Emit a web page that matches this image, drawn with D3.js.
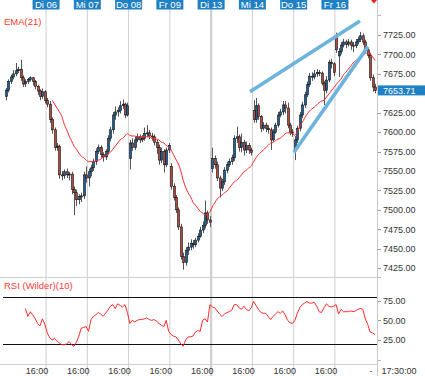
<!DOCTYPE html>
<html><head><meta charset="utf-8">
<script src="https://cdn.jsdelivr.net/npm/d3@7/dist/d3.min.js"></script>
<style>html,body{margin:0;padding:0;background:#fff;overflow:hidden}svg{display:block;font-family:"Liberation Sans",Arial,sans-serif}</style>
</head><body><svg id="c" width="425" height="376"></svg>
<script>
// ---------- data ----------
const days = ["Mo 05","Di 06","Mi 07","Do 08","Fr 09","Di 13","Mi 14","Do 15","Fr 16"];
const barsPerDay = 17; // 30-minute bars
const timeLabel = "16:00";
const lastTimeLabel = "17:30:00";

const open = [
 7646,7654,7665,7671,7675,7679,7681,7670,7662,7665,7668,7670,7665,7659,7653,7646,7652,
 7641,7636,7616,7603,7580,7582,7545,7544,7549,7545,7546,7526,7522,7513,7517,7518,7545,
 7541,7549,7554,7562,7575,7580,7571,7568,7575,7592,7603,7622,7626,7628,7634,7636,7622,
 7566,7586,7580,7590,7594,7590,7592,7598,7599,7595,7594,7587,7580,7564,7575,7558,7577,
 7556,7530,7516,7500,7478,7440,7432,7448,7452,7457,7455,7461,7466,7474,7480,7496,7487,
 7553,7566,7558,7541,7528,7536,7551,7558,7562,7567,7592,7594,7580,7587,7577,7583,7577,
 7628,7616,7634,7620,7605,7609,7605,7603,7590,7600,7609,7622,7626,7635,7631,7609,7600,
 7577,7590,7605,7622,7635,7648,7661,7672,7671,7675,7677,7676,7663,7654,7667,7690,7688,
 7724,7698,7704,7712,7716,7713,7716,7712,7711,7716,7719,7724,7716,7706,7699,7670,7658];
const high = [
 7657,7668,7674,7680,7689,7684,7693,7673,7668,7670,7672,7671,7667,7661,7655,7656,7654,
 7644,7640,7619,7606,7586,7584,7550,7552,7553,7549,7549,7530,7526,7520,7522,7549,7556,
 7553,7558,7566,7579,7584,7583,7574,7578,7596,7607,7626,7633,7632,7640,7642,7638,7638,
 7590,7592,7594,7598,7597,7596,7606,7609,7603,7599,7597,7590,7584,7580,7578,7580,7586,
 7560,7534,7519,7503,7482,7445,7452,7458,7462,7461,7464,7470,7478,7485,7512,7499,7492,
 7580,7570,7562,7544,7540,7555,7562,7566,7571,7596,7607,7597,7598,7590,7588,7586,7580,
 7641,7644,7637,7622,7613,7612,7609,7606,7604,7612,7626,7630,7640,7640,7638,7612,7604,
 7595,7608,7626,7639,7652,7665,7676,7677,7680,7681,7680,7678,7666,7672,7693,7694,7690,
 7728,7708,7716,7720,7719,7720,7719,7716,7720,7723,7729,7727,7719,7708,7702,7674,7662];
const low = [
 7641,7651,7662,7668,7672,7676,7666,7658,7658,7662,7665,7660,7655,7648,7641,7643,7637,
 7632,7612,7598,7576,7576,7540,7538,7540,7541,7538,7520,7493,7505,7507,7510,7514,7535,
 7530,7543,7550,7558,7572,7567,7562,7564,7571,7588,7598,7616,7620,7624,7630,7618,7620,
 7552,7576,7577,7587,7586,7587,7589,7594,7591,7589,7583,7572,7558,7560,7548,7555,7573,
 7526,7512,7496,7474,7436,7423,7428,7442,7448,7450,7452,7458,7464,7470,7476,7482,7478,
 7548,7553,7537,7516,7524,7532,7547,7555,7558,7563,7586,7575,7574,7570,7573,7572,7570,
 7612,7612,7616,7600,7602,7600,7598,7577,7588,7598,7606,7619,7622,7624,7605,7596,7594,
 7564,7586,7601,7618,7631,7645,7658,7666,7668,7671,7672,7660,7635,7650,7664,7682,7672,
 7702,7671,7700,7709,7708,7710,7706,7703,7708,7713,7716,7712,7702,7695,7666,7652,7650];
const close = [
 7654,7665,7671,7675,7679,7681,7670,7662,7665,7668,7670,7665,7659,7653,7646,7652,7641,
 7636,7616,7603,7580,7582,7545,7544,7549,7545,7546,7526,7522,7513,7517,7518,7545,7541,
 7549,7554,7562,7575,7580,7571,7568,7575,7592,7603,7622,7626,7628,7634,7636,7622,7634,
 7586,7580,7590,7594,7590,7592,7598,7599,7595,7594,7587,7580,7564,7575,7558,7577,7583,
 7530,7516,7500,7478,7440,7432,7448,7452,7457,7455,7461,7466,7474,7480,7496,7487,7484,
 7566,7558,7541,7528,7536,7551,7558,7562,7567,7592,7594,7580,7587,7577,7583,7577,7574,
 7616,7634,7620,7605,7609,7605,7603,7590,7600,7609,7622,7626,7635,7631,7609,7600,7599,
 7590,7605,7622,7635,7648,7661,7672,7671,7675,7677,7676,7663,7654,7667,7690,7688,7677,
 7706,7704,7712,7716,7713,7716,7712,7711,7716,7719,7724,7716,7706,7699,7670,7658,7653.71];

// EMA(21) values, starting at bar 19
const emaStart = 19;
const ema = [
 7641,7636,7631,7626,7620,7610,7603,7595,7589,7582,
 7578,7573,7569,7567,7564,7562,7562,7562,7563,7564,
 7565,7568,7569,7572,7574,7578,7582,7586,7590,7592,
 7595,7598,7596,7595,7595,7594,7594,7594,7594,7594,
 7594,7592,7592,7591,7590,7587,7586,7583,7581,7577,
 7571,7565,7559,7550,7538,7529,7522,7517,7510,7506,
 7502,7498,7496,7493,7495,7497,7504,7509,7514,7517,
 7519,7522,7524,7528,7532,7536,7538,7541,7545,7549,
 7551,7554,7556,7562,7567,7571,7574,7577,7580,7583,
 7586,7587,7589,7591,7592,7595,7598,7599,7599,7598,
 7596,7601,7607,7612,7618,7623,7627,7630,7632,7635,
 7638,7640,7641,7645,7649,7653,7657,7661,7665,7668,
 7674,7677,7681,7685,7689,7692,7694,7697,7699,7701,
 7702,7701,7697,7692];

// RSI (Wilder)(10), starting at bar 8
const rsiStart = 8;
const rsi = [
 65,55,61,57,52,46,43,52,45,34,
 28,25,27,24,21,19,19,20,23,19,
 17,22,30,40,41,42,36,51,55,57,
 60,58,55,59,63,68,70,65,71,69,
 67,70,60,46,50,48,50,51,51,52,
 53,51,50,51,49,46,44,42,50,36,
 32,30,29,25,20,17,25,29,29,30,
 35,37,36,50,52,48,70,67,66,62,
 58,55,58,60,61,63,70,70,66,64,
 68,64,62,66,74,69,64,60,59,59,
 55,51,55,58,61,59,62,57,50,47,
 46,50,59,66,70,72,74,72,72,73,
 68,61,60,66,71,68,67,68,70,58,
 64,61,61,61,62,61,62,64,65,64,
 52,45,35,34,32];

const priceTicks = [7725,7700,7675,7625,7600,7575,7550,7525,7500,7475,7450,7425];
const rsiTicks = [75,50,25];
const rsiBands = [80,20];
const lastPrice = 7653.71;
// drawn trend lines: [bar position, price] pairs
const trendA = [[101.0,7652],[146.3,7743]];
const trendB = [[119.1,7574],[149.6,7710]];

// ---------- layout ----------
const svg = d3.select("#c");
const nBars = days.length * barsPerDay;
const axisX = 377;
const x = d3.scaleLinear().domain([0, nBars]).range([4.8, 376.2]);
const y = d3.scaleLinear().domain([7425, 7725]).range([268.1, 35]);
const yr = d3.scaleLinear().domain([25, 75]).range([340, 300.7]);
const priceBottom = 277, rsiBottom = 364;
const fmt = d3.format(".2f");

svg.append("rect").attr("width",425).attr("height",376).attr("fill","#fff");

// day gridlines
const g = svg.append("g");
d3.range(1, days.length).forEach(d => {
  g.append("line")
   .attr("x1", x(d*barsPerDay)).attr("x2", x(d*barsPerDay))
   .attr("y1", 0).attr("y2", 376)
   .attr("stroke", "#cfcfcf").attr("stroke-width", days[d] === "Di 13" ? 2.2 : 1);
});
// horizontal separators
[priceBottom, rsiBottom].forEach(v => {
  g.append("line").attr("x1",0).attr("x2",axisX).attr("y1",v+0.5).attr("y2",v+0.5)
   .attr("stroke","#d0d0d0");
});
// right axis line
g.append("line").attr("x1",axisX+0.5).attr("x2",axisX+0.5).attr("y1",0).attr("y2",376).attr("stroke","#c8c8c8");

// price axis
const pa = svg.append("g").attr("font-size", 9).attr("fill", "#333");
priceTicks.forEach(t => {
  pa.append("line").attr("x1",axisX+1).attr("x2",axisX+4).attr("y1",Math.round(y(t))+0.5).attr("y2",Math.round(y(t))+0.5).attr("stroke","#999");
  pa.append("text").attr("x",383).attr("y",y(t)+3.3).text(fmt(t));
});
[15, 277].forEach(v => pa.append("line").attr("x1",axisX+1).attr("x2",axisX+4).attr("y1",v+0.5).attr("y2",v+0.5).attr("stroke","#bbb"));

// clip
svg.append("clipPath").attr("id","clipP").append("rect").attr("x",0).attr("y",10).attr("width",axisX).attr("height",priceBottom-10);

// candles
const cg = svg.append("g").attr("clip-path","url(#clipP)");
const bw = 2;
d3.range(nBars).forEach(i => {
  const cx = Math.round(x(i+0.5)) + 0.5;
  cg.append("line").attr("x1",cx).attr("x2",cx).attr("y1",y(high[i])).attr("y2",y(low[i]))
    .attr("stroke","#555").attr("stroke-width",1);
});
d3.range(nBars).forEach(i => {
  const up = close[i] >= open[i];
  const top = y(Math.max(open[i], close[i])), bot = y(Math.min(open[i], close[i]));
  cg.append("rect")
    .attr("x", Math.round(x(i+0.5)) - 0.5).attr("width", bw)
    .attr("y", top).attr("height", Math.max(1, bot-top))
    .attr("fill", up ? "#1d5f9a" : "#b5493e")
    .attr("stroke","#111").attr("stroke-width",0.6);
});

// EMA
const emaPts = ema.map((v,k) => [emaStart + k, v]);
cg.append("path").datum(emaPts)
  .attr("d", d3.line().x(d => x(d[0]+0.5)).y(d => y(d[1])).curve(d3.curveMonotoneX))
  .attr("fill","none").attr("stroke","#ff2a2a").attr("stroke-width",1);

// trend lines
[trendA, trendB].forEach(tl => {
  svg.append("line")
    .attr("x1", x(tl[0][0])).attr("y1", y(tl[0][1]))
    .attr("x2", x(tl[1][0])).attr("y2", y(tl[1][1]))
    .attr("stroke","#6cb3de").attr("stroke-width",3.6).attr("stroke-linecap","butt");
});

// RSI panel
const rg = svg.append("g");
rsiBands.forEach(b => {
  rg.append("line").attr("x1",3).attr("x2",axisX).attr("y1",Math.round(yr(b))+0.5).attr("y2",Math.round(yr(b))+0.5)
    .attr("stroke","#111").attr("stroke-width",1);
});
const rsiPts = rsi.map((v,k) => [rsiStart + k, v]);
rg.append("path").datum(rsiPts)
  .attr("d", d3.line().x(d => x(d[0]+0.5)).y(d => yr(d[1])))
  .attr("fill","none").attr("stroke","#ff2a2a").attr("stroke-width",1);
rsiTicks.forEach(t => {
  rg.append("line").attr("x1",axisX+1).attr("x2",axisX+4).attr("y1",Math.round(yr(t))+0.5).attr("y2",Math.round(yr(t))+0.5).attr("stroke","#999");
  rg.append("text").attr("x",383).attr("y",yr(t)+3.3).attr("font-size",9).attr("fill","#333").text(fmt(t));
});
rg.append("line").attr("x1",axisX+1).attr("x2",axisX+4).attr("y1",360.5).attr("y2",360.5).attr("stroke","#bbb");

// time axis
const ta = svg.append("g").attr("font-size",9).attr("fill","#333").attr("text-anchor","middle");
d3.range(0, days.length-1).forEach(d => {
  ta.append("text").attr("x", x(d*barsPerDay + 13.3)).attr("y", 373.5).text(timeLabel);
});
ta.append("text").attr("x", 371).attr("y", 373.5).text("-");
ta.append("text").attr("x", 399).attr("y", 373.5).text(lastTimeLabel);

// day label boxes
const dl = svg.append("g");
d3.range(1, days.length).forEach(d => {
  const cx = x(d*barsPerDay);
  dl.append("rect").attr("x", cx-13.5).attr("y",0).attr("width",27).attr("height",9.5).attr("fill","#1f80c4");
  dl.append("text").attr("x",cx).attr("y",8).attr("text-anchor","middle").attr("font-size",9.5).attr("fill","#fff").text(days[d]);
});

// last price box
svg.append("rect").attr("x",axisX+1).attr("y",y(lastPrice)-5).attr("width",425-axisX-1).attr("height",10).attr("fill","#1f80c4");
svg.append("text").attr("x",383).attr("y",y(lastPrice)+3.3).attr("font-size",9).attr("fill","#fff").text(fmt(lastPrice));

// red marker
svg.append("path").attr("d", `M${axisX-6},0 L${axisX},0 L${axisX-3},3.5 Z`).attr("fill","#e02020");

// legends
svg.append("text").attr("x",4).attr("y",25).attr("font-size",9.5).attr("fill","#ff3b2a").text("EMA(21)");
svg.append("text").attr("x",4).attr("y",289).attr("font-size",9.5).attr("fill","#ff3b3b").text("RSI (Wilder)(10)");
</script></body></html>
